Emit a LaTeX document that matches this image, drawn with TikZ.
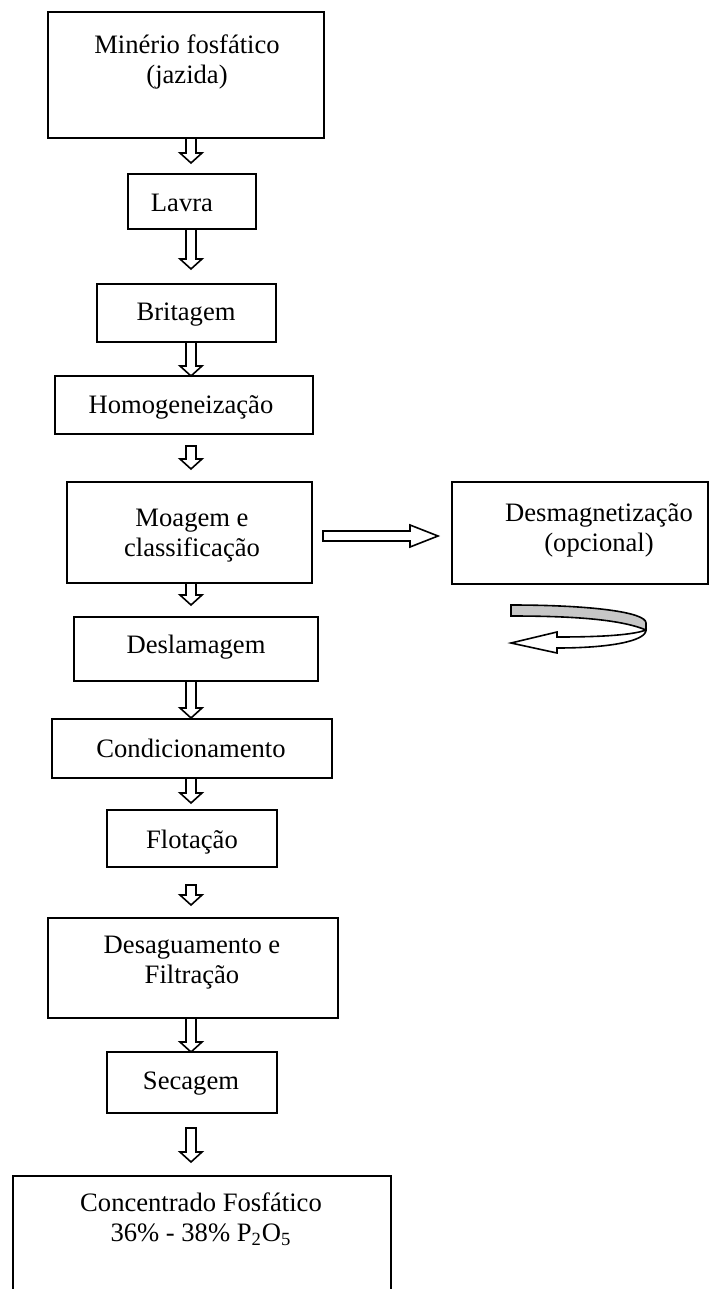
\documentclass[tikz,border=0pt]{standalone}
\usepackage{fontspec}
\setmainfont{Liberation Serif}
\usepackage{tikz}
\newcommand{\setabaixo}[3]{\draw[seta] (#1-5,#2) -- (#1+5,#2) -- (#1+5,#3-10) -- (#1+11,#3-10) -- (#1,#3) -- (#1-11,#3-10) -- (#1-5,#3-10) -- cycle;}
\begin{document}
\begin{tikzpicture}[x=0.5pt,y=-0.5pt]
\tikzstyle{caixa}=[draw,line width=1pt,inner sep=0pt]
\tikzstyle{texto}=[align=center,inner sep=0pt,font=\fontsize{13.3}{15}\selectfont]
\tikzstyle{seta}=[draw,fill=white,line width=0.8pt,line join=miter]
\useasboundingbox (0,0) rectangle (710,1289);
\node[caixa,minimum width=138pt,minimum height=63pt] (minerio) at (186,75) {};
\node[caixa,minimum width=64pt,minimum height=27.5pt] (lavra) at (192,201.5) {};
\node[caixa,minimum width=89.5pt,minimum height=29pt] (britagem) at (186.5,313) {};
\node[caixa,minimum width=129pt,minimum height=29pt] (homog) at (184,405) {};
\node[caixa,minimum width=122.5pt,minimum height=50.5pt] (moagem) at (189.5,532.5) {};
\node[caixa,minimum width=128pt,minimum height=51pt] (desmag) at (580,533) {};
\node[caixa,minimum width=122pt,minimum height=32pt] (deslam) at (196,649) {};
\node[caixa,minimum width=140pt,minimum height=29.5pt] (condic) at (192,748.5) {};
\node[caixa,minimum width=85pt,minimum height=28.5pt] (flot) at (192,838.5) {};
\node[caixa,minimum width=145pt,minimum height=50pt] (desag) at (193,968) {};
\node[caixa,minimum width=85pt,minimum height=30.5pt] (secagem) at (192,1082.5) {};
\node[caixa,minimum width=189pt,minimum height=62pt] (concent) at (202,1238) {};
\node[texto] (minerio-t) at (187,62) {Minério fosfático\\(jazida)};
\node[texto] (lavra-t) at (182,203) {Lavra};
\node[texto] (britagem-t) at (186,315) {Britagem};
\node[texto] (homog-t) at (181,407) {Homogeneização};
\node[texto] (moagem-t) at (192,536) {Moagem e\\classificação};
\node[texto] (desmag-t) at (599,530) {Desmagnetização\\(opcional)};
\node[texto] (deslam-t) at (196,647) {Deslamagem};
\node[texto] (condic-t) at (191,748) {Condicionamento};
\node[texto] (flot-t) at (192,842) {Flotação};
\node[texto] (desag-t) at (192,963) {Desaguamento e\\Filtração};
\node[texto] (secagem-t) at (191,1084) {Secagem};
\node[texto] (concent-t) at (201,1219) {Concentrado Fosfático\\36\% - 38\% P\textsubscript{2}O\textsubscript{5}};
\setabaixo{191}{138}{163}
\setabaixo{191}{229}{269}
\setabaixo{191}{342}{376}
\setabaixo{191}{446}{469}
\setabaixo{191}{583}{605}
\setabaixo{191}{681}{718}
\setabaixo{191}{778}{803}
\setabaixo{191}{885}{905}
\setabaixo{191}{1018}{1052}
\setabaixo{191}{1128}{1162}
\draw[seta] (323,531) -- (410,531) -- (410,525) -- (438,536) -- (410,547) -- (410,541) -- (323,541) -- cycle;
\draw[line width=0.8pt,fill=black!22] (511,605) .. controls (590,605) and (646,612) .. (646,623) -- (646,630) .. controls (620,619) and (570,616) .. (511,616) -- cycle;
\draw[seta] (646,630) .. controls (630,636) and (590,637) .. (557,637) -- (557,632) -- (511,643) -- (557,653) -- (557,648) .. controls (610,648) and (646,641) .. (646,630) -- cycle;
\end{tikzpicture}
\end{document}
